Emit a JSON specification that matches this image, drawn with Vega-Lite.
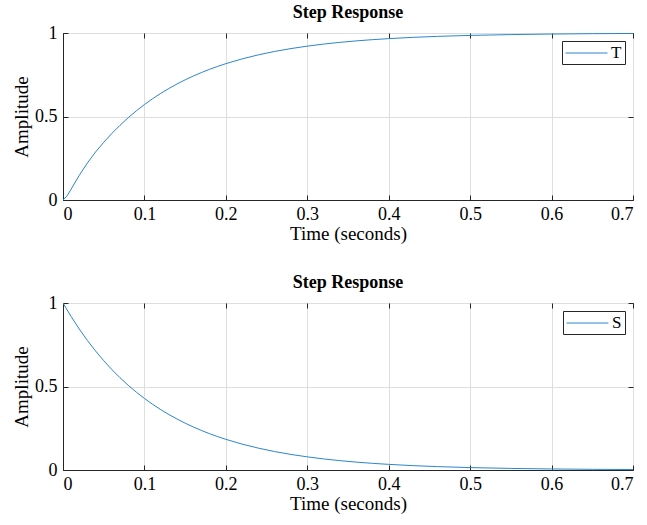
{
  "$schema": "https://vega.github.io/schema/vega-lite/v6.json",
  "background": "white",
  "padding": {"left": 12, "top": 3, "right": 5, "bottom": 5},
  "config": {
    "font": "Liberation Serif",
    "view": {"stroke": "#262626", "strokeWidth": 1},
    "axis": {
      "domainColor": "#262626", "tickColor": "#262626", "labelColor": "#000000", "titleColor": "#000000",
      "labelFont": "Liberation Serif", "titleFont": "Liberation Serif", "labelFontSize": 18, "titleFontSize": 19,
      "titleFontWeight": "normal", "gridColor": "#dedede", "gridWidth": 1, "tickSize": -5
    },
    "title": {"font": "Liberation Serif", "fontSize": 18, "fontWeight": "bold", "color": "#000000", "offset": 2},
    "legend": {"labelFont": "Liberation Serif", "labelFontSize": 17, "labelColor": "#000000"},
    "concat": {"spacing": 29}
  },
  "datasets": {
    "T": [
      {"t": 0, "amp": 0, "s": "T"},
      {"t": 0.005, "amp": 0.025, "s": "T"},
      {"t": 0.01, "amp": 0.065, "s": "T"},
      {"t": 0.02, "amp": 0.148, "s": "T"},
      {"t": 0.03, "amp": 0.222, "s": "T"},
      {"t": 0.04, "amp": 0.2875, "s": "T"},
      {"t": 0.05, "amp": 0.3454, "s": "T"},
      {"t": 0.06, "amp": 0.3986, "s": "T"},
      {"t": 0.07, "amp": 0.4475, "s": "T"},
      {"t": 0.08, "amp": 0.4924, "s": "T"},
      {"t": 0.09, "amp": 0.5336, "s": "T"},
      {"t": 0.1, "amp": 0.5715, "s": "T"},
      {"t": 0.11, "amp": 0.6063, "s": "T"},
      {"t": 0.12, "amp": 0.6383, "s": "T"},
      {"t": 0.13, "amp": 0.6677, "s": "T"},
      {"t": 0.14, "amp": 0.6947, "s": "T"},
      {"t": 0.15, "amp": 0.7195, "s": "T"},
      {"t": 0.16, "amp": 0.7423, "s": "T"},
      {"t": 0.17, "amp": 0.7632, "s": "T"},
      {"t": 0.18, "amp": 0.7825, "s": "T"},
      {"t": 0.19, "amp": 0.8001, "s": "T"},
      {"t": 0.2, "amp": 0.8164, "s": "T"},
      {"t": 0.22, "amp": 0.845, "s": "T"},
      {"t": 0.24, "amp": 0.8692, "s": "T"},
      {"t": 0.26, "amp": 0.8896, "s": "T"},
      {"t": 0.28, "amp": 0.9068, "s": "T"},
      {"t": 0.3, "amp": 0.9213, "s": "T"},
      {"t": 0.32, "amp": 0.9336, "s": "T"},
      {"t": 0.34, "amp": 0.944, "s": "T"},
      {"t": 0.36, "amp": 0.9527, "s": "T"},
      {"t": 0.38, "amp": 0.9601, "s": "T"},
      {"t": 0.4, "amp": 0.9663, "s": "T"},
      {"t": 0.43, "amp": 0.9739, "s": "T"},
      {"t": 0.46, "amp": 0.9797, "s": "T"},
      {"t": 0.5, "amp": 0.9856, "s": "T"},
      {"t": 0.55, "amp": 0.9905, "s": "T"},
      {"t": 0.6, "amp": 0.9938, "s": "T"},
      {"t": 0.65, "amp": 0.9959, "s": "T"},
      {"t": 0.7, "amp": 0.9973, "s": "T"}
    ],
    "S": [
      {"t": 0, "amp": 1, "s": "S"},
      {"t": 0.01, "amp": 0.9187, "s": "S"},
      {"t": 0.02, "amp": 0.8441, "s": "S"},
      {"t": 0.03, "amp": 0.7756, "s": "S"},
      {"t": 0.04, "amp": 0.7125, "s": "S"},
      {"t": 0.05, "amp": 0.6546, "s": "S"},
      {"t": 0.06, "amp": 0.6014, "s": "S"},
      {"t": 0.07, "amp": 0.5525, "s": "S"},
      {"t": 0.08, "amp": 0.5076, "s": "S"},
      {"t": 0.09, "amp": 0.4664, "s": "S"},
      {"t": 0.1, "amp": 0.4285, "s": "S"},
      {"t": 0.11, "amp": 0.3937, "s": "S"},
      {"t": 0.12, "amp": 0.3617, "s": "S"},
      {"t": 0.13, "amp": 0.3323, "s": "S"},
      {"t": 0.14, "amp": 0.3053, "s": "S"},
      {"t": 0.15, "amp": 0.2805, "s": "S"},
      {"t": 0.16, "amp": 0.2577, "s": "S"},
      {"t": 0.17, "amp": 0.2368, "s": "S"},
      {"t": 0.18, "amp": 0.2175, "s": "S"},
      {"t": 0.19, "amp": 0.1999, "s": "S"},
      {"t": 0.2, "amp": 0.1836, "s": "S"},
      {"t": 0.22, "amp": 0.155, "s": "S"},
      {"t": 0.24, "amp": 0.1308, "s": "S"},
      {"t": 0.26, "amp": 0.1104, "s": "S"},
      {"t": 0.28, "amp": 0.0932, "s": "S"},
      {"t": 0.3, "amp": 0.0787, "s": "S"},
      {"t": 0.32, "amp": 0.0664, "s": "S"},
      {"t": 0.34, "amp": 0.056, "s": "S"},
      {"t": 0.36, "amp": 0.0473, "s": "S"},
      {"t": 0.38, "amp": 0.0399, "s": "S"},
      {"t": 0.4, "amp": 0.0337, "s": "S"},
      {"t": 0.43, "amp": 0.0261, "s": "S"},
      {"t": 0.46, "amp": 0.0203, "s": "S"},
      {"t": 0.5, "amp": 0.0144, "s": "S"},
      {"t": 0.55, "amp": 0.0095, "s": "S"},
      {"t": 0.6, "amp": 0.0062, "s": "S"},
      {"t": 0.65, "amp": 0.0041, "s": "S"},
      {"t": 0.7, "amp": 0.0027, "s": "S"}
    ]
  },
  "vconcat": [
    {
      "title": "Step Response",
      "width": 570,
      "height": 167,
      "data": {"name": "T"},
      "layer": [
        {
          "mark": {"type": "line", "strokeWidth": 1, "clip": true},
          "encoding": {
            "x": {"field": "t", "type": "quantitative", "scale": {"domain": [0, 0.7], "nice": false},
                  "axis": {"title": "Time (seconds)", "values": [0, 0.1, 0.2, 0.3, 0.4, 0.5, 0.6, 0.7], "format": "~g", "labelPadding": 10, "titlePadding": 1}},
            "y": {"field": "amp", "type": "quantitative", "scale": {"domain": [0, 1], "nice": false},
                  "axis": {"title": "Amplitude", "values": [0, 0.5, 1], "format": "~g", "labelPadding": 11, "titlePadding": 3}},
            "color": {"field": "s", "type": "nominal", "scale": {"range": ["#2b86cc"]},
                      "legend": {"title": null, "orient": "top-right", "symbolType": "M-1,0H3.94", "symbolSize": 289, "symbolStrokeWidth": 1, "labelOffset": 28, "strokeColor": "#262626", "fillColor": "white", "padding": 3, "offset": 8}}
          }
        },
        {
          "mark": {"type": "line", "strokeWidth": 1, "opacity": 0},
          "encoding": {
            "x": {"field": "t", "type": "quantitative",
                  "axis": {"orient": "top", "title": null, "labels": false, "grid": false, "domain": false, "values": [0, 0.1, 0.2, 0.3, 0.4, 0.5, 0.6, 0.7]}},
            "y": {"field": "amp", "type": "quantitative",
                  "axis": {"orient": "right", "title": null, "labels": false, "grid": false, "domain": false, "values": [0, 0.5, 1]}}
          }
        }
      ],
      "resolve": {"axis": {"x": "independent", "y": "independent"}}
    },
    {
      "title": "Step Response",
      "width": 570,
      "height": 167,
      "data": {"name": "S"},
      "layer": [
        {
          "mark": {"type": "line", "strokeWidth": 1, "clip": true},
          "encoding": {
            "x": {"field": "t", "type": "quantitative", "scale": {"domain": [0, 0.7], "nice": false},
                  "axis": {"title": "Time (seconds)", "values": [0, 0.1, 0.2, 0.3, 0.4, 0.5, 0.6, 0.7], "format": "~g", "labelPadding": 10, "titlePadding": 1}},
            "y": {"field": "amp", "type": "quantitative", "scale": {"domain": [0, 1], "nice": false},
                  "axis": {"title": "Amplitude", "values": [0, 0.5, 1], "format": "~g", "labelPadding": 11, "titlePadding": 3}},
            "color": {"field": "s", "type": "nominal", "scale": {"range": ["#2b86cc"]},
                      "legend": {"title": null, "orient": "top-right", "symbolType": "M-1,0H3.94", "symbolSize": 289, "symbolStrokeWidth": 1, "labelOffset": 28, "strokeColor": "#262626", "fillColor": "white", "padding": 3, "offset": 8}}
          }
        },
        {
          "mark": {"type": "line", "strokeWidth": 1, "opacity": 0},
          "encoding": {
            "x": {"field": "t", "type": "quantitative",
                  "axis": {"orient": "top", "title": null, "labels": false, "grid": false, "domain": false, "values": [0, 0.1, 0.2, 0.3, 0.4, 0.5, 0.6, 0.7]}},
            "y": {"field": "amp", "type": "quantitative",
                  "axis": {"orient": "right", "title": null, "labels": false, "grid": false, "domain": false, "values": [0, 0.5, 1]}}
          }
        }
      ],
      "resolve": {"axis": {"x": "independent", "y": "independent"}}
    }
  ],
  "resolve": {"scale": {"color": "independent"}, "legend": {"color": "independent"}}
}
